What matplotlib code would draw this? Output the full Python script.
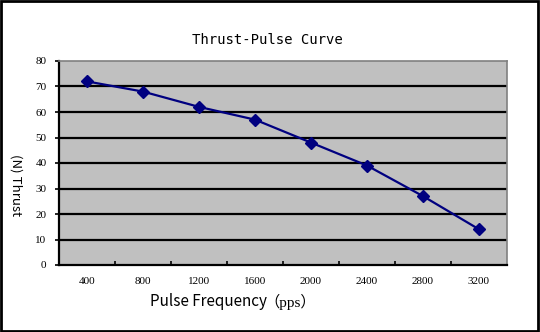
import matplotlib.pyplot as plt
from matplotlib.patches import Rectangle

plt.rcParams['font.family'] = ['Noto Sans CJK SC', 'DejaVu Sans']

# 脉冲频率与推力
freqs = ['400', '800', '1200', '1600', '2000', '2400', '2800', '3200']
thrust = [72, 68, 62, 57, 48, 39, 27, 14]
yticks = [0, 10, 20, 30, 40, 50, 60, 70, 80]

fig = plt.figure(figsize=(5.4, 3.32), dpi=100)
W, H = 540, 332
ax = fig.add_axes([59 / W, 1 - 265 / H, 448 / W, 204 / H])
ax.set_facecolor('#c0c0c0')

x = range(len(freqs))
ax.plot(x, thrust, color='#000080', linewidth=1.6, marker='D', markersize=6.5,
        markerfacecolor='#000080', markeredgecolor='#000080', zorder=3)

ax.set_xlim(-0.5, len(freqs) - 0.5)
ax.set_ylim(0, 80)
ax.set_yticks(yticks)
ax.set_yticklabels([str(v) for v in yticks], fontsize=8, family='Liberation Serif')
ax.set_xticks(list(x))
ax.set_xticklabels(freqs, fontsize=8, family='Liberation Serif')
ax.tick_params(axis='x', length=0, pad=9)
ax.tick_params(axis='y', length=3, width=1.2, direction='out', pad=6)
# 类别分隔刻度
ax.set_xticks([i + 0.5 for i in range(len(freqs) - 1)], minor=True)
ax.tick_params(axis='x', which='minor', length=3, width=1.2, direction='in')

for v in yticks[1:-1]:
    ax.axhline(v, color='black', linewidth=1.6, zorder=1)

for side in ('top', 'right'):
    ax.spines[side].set_color('#808080')
    ax.spines[side].set_linewidth(1.2)
for side in ('left', 'bottom'):
    ax.spines[side].set_color('black')
    ax.spines[side].set_linewidth(1.6)

fig.text(267 / W, 1 - 40 / H, 'Thrust-Pulse Curve', ha='center', va='center',
         fontsize=10, family=['DejaVu Sans Mono'])
fig.text(16 / W, 1 - 185 / H, '(N) Thrust', rotation=270, ha='center', va='center',
         fontsize=9.5)
fig.text(150 / W, 1 - 302 / H, 'Pulse Frequency', ha='left', va='center',
         fontsize=11)
fig.text(264 / W, 1 - 302 / H, '（pps）', ha='left', va='center',
         fontsize=11, family=['Liberation Serif', 'Noto Sans CJK SC'])

# 外框
fig.patches.append(Rectangle((0.002, 0.003), 0.995, 0.994, transform=fig.transFigure,
                             fill=False, edgecolor='black', linewidth=2))

fig.savefig('out.png', dpi=100)
